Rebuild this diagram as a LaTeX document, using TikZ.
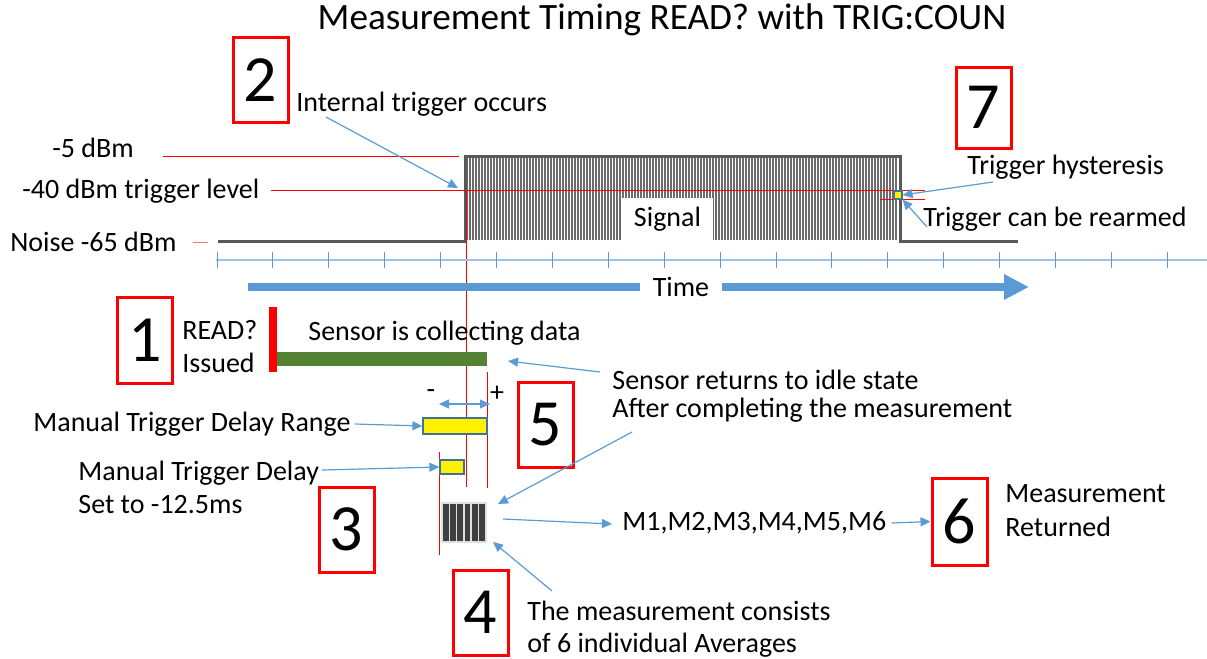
\documentclass[tikz,border=0pt]{standalone}
\usepackage{fontspec}
\setmainfont{Carlito}
\usetikzlibrary{arrows.meta}
\definecolor{msblue}{HTML}{5B9BD5}
\definecolor{axisblue}{HTML}{9DC3E6}
\definecolor{boxblue}{HTML}{41719C}
\definecolor{sensorgreen}{HTML}{548235}
\definecolor{sgray}{HTML}{595959}
\begin{document}
\begin{tikzpicture}[x=0.5pt,y=-0.5pt]
\tikzset{txt/.style = {anchor=west, inner sep=0pt, font=\fontsize{14}{16}\selectfont}}
\tikzset{numbox/.style = {shape=rectangle, draw=red, line width=1.5pt, minimum width=27.5pt, minimum height=42.5pt, inner sep=0pt, font=\fontsize{33}{36}\selectfont}}
\tikzset{edge/.style = {->, > = {Triangle[length=5pt,width=4.5pt]}, draw=msblue, line width=0.6pt}}
\tikzset{ybox/.style = {shape=rectangle, draw=boxblue, fill=yellow, line width=0.6pt, inner sep=0pt}}
\tikzset{level/.style = {red, line width=0.5pt}}
\useasboundingbox (0,0) rectangle (1207,659);

\node[inner sep=0pt, font=\fontsize{18.6}{20}\selectfont] (title) at (662,20) {Measurement Timing READ? with TRIG:COUN};

% step numbers
\node[numbox] (n2) at (260.5,80) {2};
\node[numbox, minimum height=40.5pt] (n7) at (983.5,107.5) {7};
\node[numbox, minimum height=43pt] (n1) at (145,340) {1};
\node[numbox] (n5) at (545.5,425) {5};
\node[numbox] (n3) at (346.5,529.5) {3};
\node[numbox, minimum height=43.5pt] (n6) at (959.5,521.5) {6};
\node[numbox] (n4) at (480.5,612.5) {4};

% levels
\node[txt] (l5) at (52,148) {-5 dBm};
\node[txt] (l40) at (22,191) {-40 dBm trigger level};
\node[txt] (lnoise) at (10,242) {Noise -65 dBm};

% signal
\fill[white] (465,156) rectangle (900,241);
\foreach \x in {467,470,...,898}
  \draw[gray!85!black, line width=0.7pt] (\x,157) -- (\x,240);
\draw[sgray, line width=1.5pt] (218,241) -- (465,241) -- (465,156) -- (900,156) -- (900,241) -- (1018,241);
\node[fill=white, inner sep=0pt, minimum width=45.5pt, minimum height=21pt, font=\fontsize{14}{16}\selectfont] (sig) at (667.5,219) {Signal};

\draw[level] (163,156) -- (459,156);
\draw[level] (271,190) -- (925,190);
\draw[level] (880,199) -- (925,199);
\draw[level, red!55] (193,242) -- (208,242);
\draw[level] (466,190) -- (466,487);

% time axis
\draw[axisblue, line width=0.8pt] (216,260) -- (1207,260);
\foreach \i in {0,...,17}
  \draw[msblue, line width=0.5pt] (217+55.9*\i,252) -- (217+55.9*\i,268);
\node[inner sep=0pt, minimum width=41pt, font=\fontsize{14}{16}\selectfont] (time) at (681,287) {Time};
\coordinate (t0) at (248,287);
\coordinate (t1) at (1029,287);
\draw[msblue, line width=4pt] (t0) -- (time.west);
\draw[msblue, line width=4pt, -{Triangle[length=12.5pt,width=12pt]}] (time.east) -- (t1);

% internal trigger and rearm
\node[txt] (intr) at (296,104) {Internal trigger occurs};
\coordinate (trig) at (458,188);
\draw[edge] (326,117) -- (trig);
\node[ybox, minimum size=4pt] (hyst) at (898,195) {};
\node[txt] (hysttxt) at (967,167) {Trigger hysteresis};
\node[txt] (rearm) at (923,219) {Trigger can be rearmed};
\draw[edge] (993,182) -- (hyst.east);
\draw[edge] (927,227) -- (hyst.south east);

% sensor
\fill[red] (269,307) rectangle (277,372);
\node[txt] (read) at (182,330) {READ?};
\node[txt] (issued) at (182,363) {Issued};
\node[txt] (coll) at (308,333) {Sensor is collecting data};
\fill[sensorgreen] (277,352) rectangle (487,366);
\coordinate (busyend) at (508,361);
\node[txt] (ret1) at (612,380) {Sensor returns to idle state};
\node[txt] (ret2) at (612,410) {After completing the measurement};
\draw[edge] (600,372) -- (busyend);

% delay
\draw[level] (487,372) -- (487,488);
\draw[level] (439,452) -- (439,555);
\node[inner sep=0pt, font=\fontsize{14}{16}\selectfont] (minus) at (431,394) {-};
\node[inner sep=0pt, font=\fontsize{14}{16}\selectfont] (plus) at (497,394) {+};
\draw[edge, <->] (439,404) -- (490,404);
\node[ybox, minimum width=32pt, minimum height=8pt] (range) at (455,426) {};
\node[ybox, minimum width=12pt, minimum height=7pt] (delay) at (452,467) {};
\node[txt] (rangetxt) at (33,424) {Manual Trigger Delay Range};
\node[txt] (delaytxt) at (78,473) {Manual Trigger Delay};
\node[txt] (settxt) at (78,505) {Set to -12.5ms};
\draw[edge] (355,424) -- (range.west);
\draw[edge] (322,470) -- (delay.west);

% measurement
\node[fill=gray!25, inner sep=0pt, minimum width=23pt, minimum height=20.5pt] (meas) at (464,522.5) {};
\foreach \i in {0,...,5}
  \fill[black!75] (443+7.2*\i,504) rectangle +(5.8,37);
\node[txt] (mlist) at (622,523) {M1,M2,M3,M4,M5,M6};
\node[txt] (mret1) at (1005,494) {Measurement};
\node[txt] (mret2) at (1005,527) {Returned};
\node[txt] (cons1) at (527,611) {The measurement consists};
\node[txt] (cons2) at (527,645) {of 6 individual Averages};
\draw[edge] (632,432) -- (498,504);
\draw[edge] (503,519) -- (612,524);
\draw[edge] (mlist.east) ++(5,0) -- (n6.west);
\draw[edge] (552,591) -- (493,542);

\end{tikzpicture}
\end{document}
